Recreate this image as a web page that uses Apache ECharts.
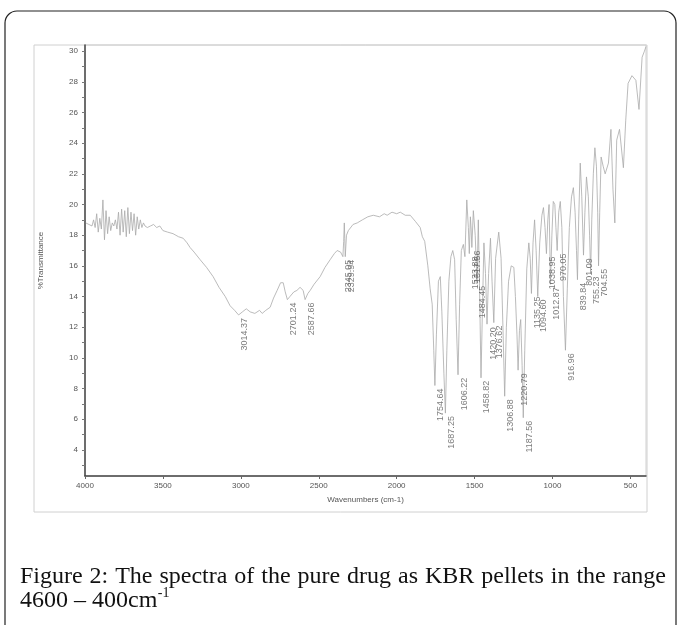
<!DOCTYPE html>
<html>
<head>
<meta charset="utf-8">
<script src="https://cdn.jsdelivr.net/npm/echarts@6/dist/echarts.min.js"></script>
<style>
html,body{margin:0;padding:0;background:#fff;}
#c{width:678px;height:625px;}
</style>
</head>
<body>
<div id="c"></div>
<script>
// ---- Data ----
const wavenumbers = [
 3995,3985,3975,3965,3955,3945,3935,3925,3915,3905,3895,3885,3875,3865,3855,3845,3835,3825,3815,3805,
 3795,3785,3775,3765,3755,3745,3735,3725,3715,3705,3695,3685,3675,3665,3655,3645,3635,3625,3615,3600,
 3580,3560,3540,3520,3500,3470,3435,3400,3370,3345,3326,3300,3261,3220,3178,3140,3100,3069,3040,3014.37,
 2990,2965,2940,2910,2880,2863,2840,2812,2790,2767,2745,2728,2715,2701.24,2685,2660,2640,2620,2600,2587.66,
 2570,2555,2530,2491,2460,2427,2400,2382,2360,2345.05,2340,2336,2333,2329.94,2322,2310,2280,2253,2220,2185,
 2150,2110,2080,2061,2030,2000,1977,1945,1913,1880,1849,1835,1820,1800,1785,1772,1762,1754.64,1745,1732,
 1720,1710,1697,1687.25,1678,1665,1652,1640,1628,1618,1606.22,1596,1585,1572,1562,1550,1540,1533.88,1527,1522,
 1517.56,1508,1496,1484.45,1476,1468,1458.82,1450,1440,1430,1420.2,1410,1398,1388,1376.62,1365,1345,1330,1318,1306.88,
 1296,1282,1265,1248,1238,1228,1220.79,1212,1204,1195,1187.56,1178,1165,1152,1143,1135.25,1125,1115,1105,1094.6,
 1082,1068,1058,1048,1038.95,1030,1022,1012.87,1004,995,985,978,970.05,960,950,940,930,916.96,905,892,
 878,866,855,846,839.84,832,822,812,801.09,792,782,770,762,755.23,748,738,728,718,710,704.55,
 697,688,675,662,641,625,612,600,588,570,545,530,515,490,465,445,425,410,400
];
const transmittance = [
 18.8,18.9,18.7,18.8,18.6,19.0,18.5,19.4,18.2,19.1,18.4,20.3,17.7,19.6,18.1,19.2,18.3,18.8,18.6,19.0,
 18.4,19.5,18.0,19.7,18.2,19.6,17.9,19.8,18.1,19.5,18.3,19.4,18.0,19.2,18.4,19.0,18.5,18.8,18.6,18.5,
 18.6,18.7,18.5,18.6,18.3,18.2,18.1,17.9,17.8,17.5,17.2,16.9,16.4,15.9,15.3,14.6,14.0,13.4,13.1,12.8,
 13.0,13.2,13.0,12.9,13.1,12.9,13.1,13.3,13.9,14.4,14.9,14.9,14.3,13.8,14.0,14.3,14.4,14.6,14.4,13.8,
 14.2,14.4,14.8,15.3,15.9,16.4,16.8,17.0,16.9,16.6,17.6,18.8,17.8,16.6,18.0,18.3,18.7,18.8,19.0,19.2,
 19.3,19.2,19.4,19.3,19.5,19.4,19.5,19.3,19.3,18.9,18.5,17.9,17.6,16.0,14.5,13.5,10.5,8.2,11.5,15.0,
 15.3,13.0,9.0,6.4,10.5,15.0,16.6,17.0,16.4,12.5,8.9,13.5,17.0,17.4,16.6,20.3,18.5,16.8,19.2,18.4,
 17.2,19.6,18.0,14.9,19.0,14.5,8.7,13.0,17.5,15.5,12.2,15.5,17.8,15.0,12.3,16.5,18.2,16.5,12.0,7.5,
 12.0,15.0,16.0,15.9,14.0,11.5,9.2,11.8,12.5,9.5,6.1,10.5,15.8,17.5,16.5,14.2,17.5,19.0,17.0,14.0,
 17.5,19.3,19.8,18.5,16.8,19.0,20.0,14.8,18.0,20.2,20.0,18.5,17.0,19.5,20.2,18.5,14.0,10.5,14.5,18.5,
 20.5,21.1,19.5,17.0,15.1,19.0,22.7,20.5,16.7,19.5,21.8,20.5,18.0,15.5,19.0,22.0,23.7,22.5,19.5,16.0,
 19.5,23.1,22.5,22.0,22.7,24.9,21.0,18.8,24.2,24.9,22.4,25.5,27.9,28.4,28.1,26.2,29.6,30.0,30.3
];
const peakWavenumbers = [3014.37,2701.24,2587.66,2345.05,2329.94,1754.64,1687.25,1606.22,1533.88,1517.56,1484.45,1458.82,1420.20,1376.62,1306.88,1220.79,1187.56,1135.25,1094.60,1038.95,1012.87,970.05,916.96,839.84,801.09,755.23,704.55];
const peakTransmittance = [12.8,13.8,13.8,16.6,16.6,8.2,6.4,8.9,16.8,17.2,14.9,8.7,12.2,12.3,7.5,9.2,6.1,14.2,14.0,16.8,14.8,17.0,10.5,15.1,16.7,15.5,16.0];
const peakLabels = ["3014.37","2701.24","2587.66","2345.05","2329.94","1754.64","1687.25","1606.22","1533.88","1517.56","1484.45","1458.82","1420.20","1376.62","1306.88","1220.79","1187.56","1135.25","1094.60","1038.95","1012.87","970.05","916.96","839.84","801.09","755.23","704.55"];
const xTicks = [4000,3500,3000,2500,2000,1500,1000,500];
const yTicks = [4,6,8,10,12,14,16,18,20,22,24,26,28,30];
const yMinorTicks = [3,4,5,6,7,8,9,10,11,12,13,14,15,16,17,18,19,20,21,22,23,24,25,26,27,28,29,30];
const captionLine1 = "Figure 2: The spectra of the pure drug as KBR pellets in the range";
const captionLine2 = "4600 \u2013 400cm";
const captionSup = "-1";

// ---- Build ----
const spectrum = wavenumbers.map((w, i) => [w, transmittance[i]]);
const peaks = peakWavenumbers.map((w, i) => [w, peakTransmittance[i]]);

const chart = echarts.init(document.getElementById('c'), null, {renderer: 'canvas'});

// justified caption words
const cv = document.createElement('canvas').getContext('2d');
const capFont = '24px "Liberation Serif"';
cv.font = capFont;
const words = captionLine1.split(' ');
const widths = words.map(w => cv.measureText(w).width);
const totalW = widths.reduce((a, b) => a + b, 0);
const lineLeft = 20, lineRight = 666;
const gap = (lineRight - lineLeft - totalW) / (words.length - 1);
const graphics = [];
graphics.push({type:'rect', shape:{x:5,y:11,width:671,height:700,r:12}, style:{fill:'none', stroke:'#222', lineWidth:1.2}, silent:true, z:0});
graphics.push({type:'rect', shape:{x:34,y:45,width:613,height:467}, style:{fill:'none', stroke:'#d0d0d0', lineWidth:1}, silent:true, z:0});
let cx = lineLeft;
words.forEach((w, i) => {
  graphics.push({type:'text', x: cx, y: 577, style:{text: w, font: capFont, fill:'#111', align:'left', verticalAlign:'middle'}, silent:true});
  cx += widths[i] + gap;
});
const l2w = cv.measureText(captionLine2).width;
graphics.push({type:'text', x: lineLeft, y: 601, style:{text: captionLine2, font: capFont, fill:'#111', align:'left', verticalAlign:'middle'}, silent:true});
graphics.push({type:'text', x: lineLeft + l2w + 0.5, y: 593, style:{text: captionSup, font: '14px "Liberation Serif"', fill:'#111', align:'left', verticalAlign:'middle'}, silent:true});

const option = {
  animation: false,
  backgroundColor: '#fff',
  textStyle: {fontFamily: '"Liberation Sans", Arial, sans-serif'},
  grid: {left: 85, right: 32, top: 45, bottom: 149, show: true, borderColor: '#d0d0d0', borderWidth: 1},
  xAxis: {
    type: 'value', inverse: true, min: 400, max: 4000,
    name: 'Wavenumbers (cm-1)', nameLocation: 'middle', nameGap: 20,
    nameTextStyle: {fontSize: 8, color: '#555'},
    axisLine: {show: true, onZero: false, lineStyle: {color: '#444', width: 1.5}},
    axisTick: {show: true, customValues: xTicks, length: 3, lineStyle: {color: '#666'}},
    axisLabel: {customValues: xTicks, fontSize: 8, color: '#555', margin: 6, formatter: v => String(v)},
    splitLine: {show: false}
  },
  yAxis: {
    type: 'value', min: 2.3, max: 30.4,
    name: '%Transmittance', nameLocation: 'middle', nameGap: 40,
    nameTextStyle: {fontSize: 8, color: '#555'},
    axisLine: {show: true, onZero: false, lineStyle: {color: '#444', width: 1.5}},
    axisTick: {show: true, customValues: yMinorTicks, length: 3, lineStyle: {color: '#777'}},
    axisLabel: {customValues: yTicks, fontSize: 8, color: '#555', margin: 7, formatter: v => String(v)},
    splitLine: {show: false}
  },
  series: [
    {
      type: 'line', data: spectrum, showSymbol: false, symbol: 'none',
      lineStyle: {color: '#aaaaaa', width: 0.8}, z: 2
    },
    {
      type: 'scatter', data: peaks, symbolSize: 0, z: 3,
      label: {
        show: true, formatter: p => peakLabels[p.dataIndex],
        rotate: 90, position: [6, 3], align: 'right', verticalAlign: 'middle',
        fontSize: 9, color: '#5a5a5a'
      },
      labelLayout: {hideOverlap: false}
    }
  ],
  graphic: graphics
};
chart.setOption(option);
</script>
</body>
</html>
